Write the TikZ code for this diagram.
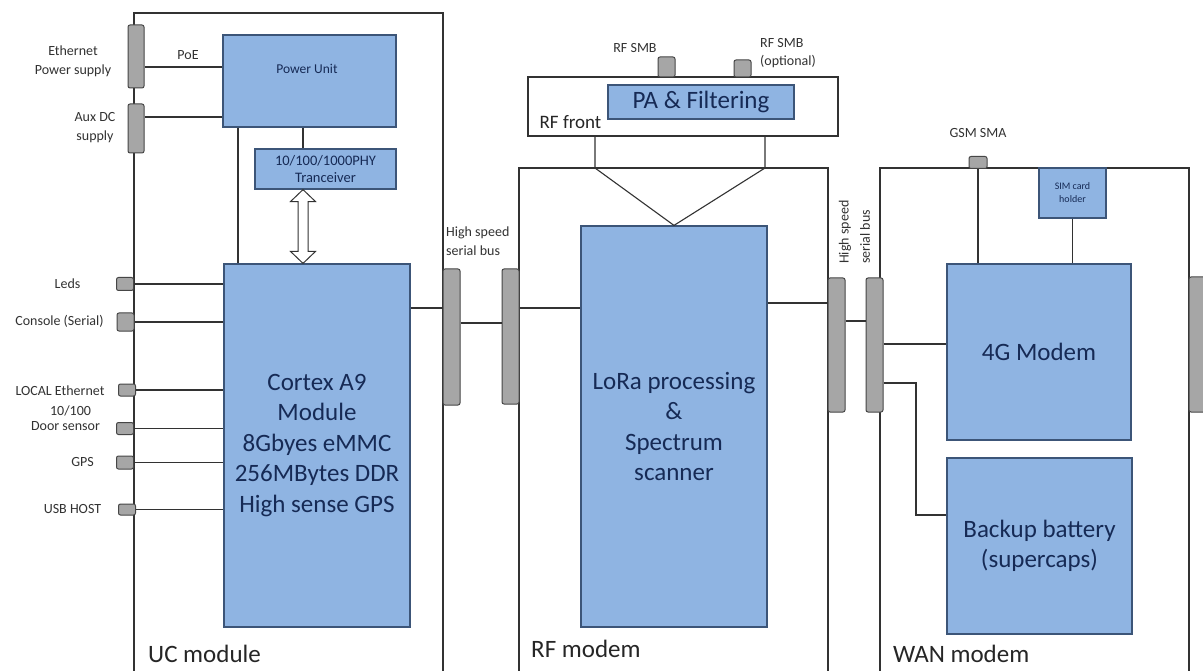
\documentclass[tikz,border=0pt]{standalone}
\usepackage{fontspec}
\usetikzlibrary{calc}
\setmainfont{Carlito}
\definecolor{bluefill}{RGB}{143,180,226}
\definecolor{blueline}{RGB}{60,85,120}
\definecolor{navy}{RGB}{22,42,85}
\definecolor{grayfill}{RGB}{166,166,166}
\definecolor{grayline}{RGB}{70,70,70}
\definecolor{linecol}{RGB}{50,50,50}
\definecolor{lblcol}{RGB}{50,50,50}
\begin{document}
\begin{tikzpicture}[x=1pt,y=-1pt,
  bluebox/.style={draw=blueline, fill=bluefill, line width=1.2pt, inner sep=0pt, text=navy, align=center},
  bigtxt/.style={font=\fontsize{25}{30.5}\selectfont},
  conn/.style={draw=grayline, fill=grayfill, rounded corners=2pt, line width=1pt, inner sep=0pt},
  wire/.style={draw=linecol, line width=1.1pt},
  modline/.style={draw=linecol, line width=1.2pt},
  lbl/.style={font=\fontsize{14}{18.5}\selectfont, text=lblcol, inner sep=0pt, align=center},
  modlbl/.style={font=\fontsize{25}{30}\selectfont, text=black!85, inner sep=0pt, anchor=base west}]
\useasboundingbox (0,0) rectangle (1203,671);
\fill[white] (0,0) rectangle (1203,671);

% module outlines
\coordinate (ucBL) at (134,671); \coordinate (ucTL) at (134,13);
\coordinate (ucTR) at (443,13); \coordinate (ucBR) at (443,671);
\draw[modline] (ucBL) -- (ucTL) -- (ucTR) -- (ucBR);
\coordinate (rfBL) at (519,671); \coordinate (rfTL) at (519,168);
\coordinate (rfTR) at (828,168); \coordinate (rfBR) at (828,671);
\draw[modline] (rfBL) -- (rfTL) -- (rfTR) -- (rfBR);
\coordinate (wanBL) at (880,671); \coordinate (wanTL) at (880,168);
\coordinate (wanTR) at (1189,168); \coordinate (wanBR) at (1189,671);
\draw[modline] (wanBL) -- (wanTL) -- (wanTR) -- (wanBR);

% UC module
\node[conn, minimum width=16, minimum height=63] (ethps) at (136,56.5) {};
\node[conn, minimum width=16, minimum height=49] (auxdc) at (136,128.5) {};
\node[bluebox, minimum width=173, minimum height=92] (power) at (309.5,81) {};
\node[inner sep=0pt, font=\fontsize{13.5}{16}\selectfont, text=navy] (powertxt) at (307,69) {Power Unit};
\node[bluebox, minimum width=141, minimum height=40, font=\fontsize{14.5}{17}\selectfont] (phy) at (325.5,169) {10/100/1000PHY\\Tranceiver};
\node[bluebox, bigtxt, minimum width=186, minimum height=363] (cortex) at (317,445.5) {Cortex A9\\Module\\8Gbyes eMMC\\256MBytes DDR\\High sense GPS};

\node[conn, minimum width=17, minimum height=13] (leds) at (125,284) {};
\node[conn, minimum width=17, minimum height=18] (console) at (125.5,322) {};
\node[conn, minimum width=17, minimum height=12] (loceth) at (127,390) {};
\node[conn, minimum width=17, minimum height=12] (door) at (125,428.5) {};
\node[conn, minimum width=17, minimum height=13] (gps) at (125,462.5) {};
\node[conn, minimum width=17, minimum height=11] (usb) at (127,509.5) {};

\node[lbl] (ethlbl) at (73,61.5) {Ethernet\\Power supply};
\node[lbl] (auxlbl) at (95,127.5) {Aux DC\\supply};
\node[lbl] (poelbl) at (188,55) {PoE};
\node[lbl] (ledslbl) at (67.5,284) {Leds};
\node[lbl] (consolelbl) at (59.5,321) {Console (Serial)};
\node[lbl] (locethlbl) at (60,391) {LOCAL Ethernet};
\node[lbl] (tenlbl) at (70.5,411) {10/100};
\node[lbl] (doorlbl) at (65.5,426.5) {Door sensor};
\node[lbl] (gpslbl) at (82.5,462.5) {GPS};
\node[lbl] (usblbl) at (72.5,509.5) {USB HOST};

\draw[wire] (ethps.east |- 0,67) -- (power.west |- 0,67);
\draw[wire] (auxdc.east |- 0,117) -- (power.west |- 0,117);
\draw[wire] (power.south -| 238,0) -- (cortex.north -| 238,0);
\draw[wire] (power.south -| 303,0) -- (phy.north -| 303,0);
\draw[wire] (leds.east) -- (cortex.west |- leds.east);
\draw[wire] (console.east) -- (cortex.west |- console.east);
\draw[wire] (loceth.east) -- (cortex.west |- loceth.east);
\draw[wire] (door.east) -- (cortex.west |- door.east);
\draw[wire] (gps.east) -- (cortex.west |- gps.east);
\draw[wire] (usb.east) -- (cortex.west |- usb.east);

% hollow double arrow PHY <-> Cortex
\coordinate (arT) at (phy.south -| 303,0);
\coordinate (arB) at (cortex.north -| 303,0);
\draw[draw=linecol, fill=white, line width=1pt, line join=miter]
  (arT) -- ++(12.5,12) -- ++(-7.5,0) -- ($(arB)+(5,-12)$) -- ++(7.5,0) -- (arB)
  -- ++(-12.5,-12) -- ++(7.5,0) -- ($(arT)+(-5,12)$) -- ++(-7.5,0) -- cycle;

% high speed bus UC-RF
\node[conn, minimum width=17, minimum height=136] (bus1) at (451.5,337) {};
\node[conn, minimum width=17, minimum height=135] (bus2) at (510.5,336.5) {};
\node[lbl, align=left, anchor=west] (hsb1) at (446,241) {High speed\\serial bus};
\draw[wire] (cortex.east |- 0,308) -- (bus1.west |- 0,308);
\draw[wire] (bus1.east |- 0,323) -- (bus2.west |- 0,323);

% RF modem
\node[draw=linecol, fill=white, line width=1.2pt, inner sep=0pt, minimum width=310, minimum height=59] (rffront) at (683,106.5) {};
\node[bluebox, bigtxt, minimum width=186, minimum height=34] (pa) at (701,102) {PA \& Filtering};
\node[inner sep=0pt, font=\fontsize{19}{22}\selectfont, text=black!85] (rffrontlbl) at (570.5,122) {RF front};
\node[conn, minimum width=17, minimum height=20] (smb1) at (666.5,67) {};
\node[conn, minimum width=17, minimum height=17] (smb2) at (742.5,68.5) {};
\node[lbl] (smb1lbl) at (635,48) {RF SMB};
\node[lbl, align=left, anchor=west] (smb2lbl) at (760,53) {RF SMB\\(optional)};
\node[bluebox, bigtxt, minimum width=186, minimum height=401] (lora) at (674,426.5) {LoRa processing\\\&\\Spectrum\\scanner};
\coordinate (rfL) at (595,168);
\coordinate (rfR) at (765,168);
\draw[wire] (rffront.south -| rfL) -- (rfL) -- (lora.north);
\draw[wire] (rffront.south -| rfR) -- (rfR) -- (lora.north);
\draw[wire] (bus2.east |- 0,308) -- (lora.west |- 0,308);

% high speed bus RF-WAN
\node[conn, minimum width=17, minimum height=134] (bus3) at (836.5,345) {};
\node[conn, minimum width=17, minimum height=134] (bus4) at (874.5,345) {};
\node[lbl, rotate=90, anchor=west] (hsb2a) at (845,264) {High speed};
\node[lbl, rotate=90, anchor=west] (hsb2b) at (865,264) {serial bus};
\draw[wire] (lora.east |- 0,303) -- (bus3.west |- 0,303);
\draw[wire] (bus3.east |- 0,321) -- (bus4.west |- 0,321);

% WAN modem
\node[bluebox, bigtxt, minimum width=184, minimum height=176] (modem) at (1039,352) {4G Modem};
\node[bluebox, bigtxt, minimum width=185, minimum height=176] (battery) at (1039.5,546) {Backup battery\\(supercaps)};
\node[conn, minimum width=18, minimum height=12] (gsm) at (978,162.5) {};
\node[lbl] (gsmlbl) at (978,133) {GSM SMA};
\node[bluebox, minimum width=67, minimum height=50, font=\fontsize{10}{13}\selectfont] (sim) at (1072.5,193) {SIM card\\holder};
\draw[wire] (gsm.south) -- (modem.north -| gsm.south);
\draw[wire] (sim.south) -- (modem.north -| sim.south);
\draw[wire] (bus4.east |- 0,344) -- (modem.west |- 0,344);
\coordinate (batK) at (916,383);
\draw[wire] (bus4.east |- batK) -- (batK) -- (batK |- 0,515) -- (battery.west |- 0,515);
\node[conn, minimum width=17, minimum height=135] (bus5) at (1197.5,344.5) {};

% module labels
\node[modlbl] (uclbl) at (148,662) {UC module};
\node[modlbl] (rflbl) at (531,657) {RF modem};
\node[modlbl] (wanlbl) at (893,662) {WAN modem};
\end{tikzpicture}
\end{document}
